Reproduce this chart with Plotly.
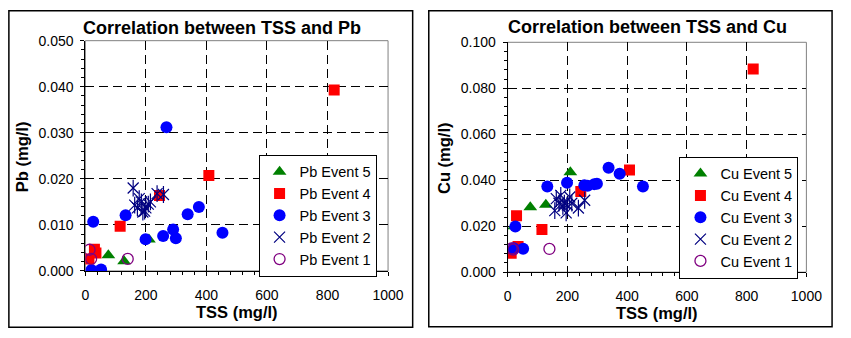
import plotly.graph_objects as go

# ---------------- data ----------------
tss_e5 = [22, 76, 128, 210]
pb_e5 = [0.0000, 0.0034, 0.0021, 0.0068]
cu_e5 = [0.0200, 0.0282, 0.0293, 0.0435]

tss_e4 = [12, 30, 35, 115, 245, 408, 822]
pb_e4 = [0.0026, 0.0047, 0.0039, 0.0097, 0.0164, 0.0207, 0.0393]
cu_e4 = [0.0082, 0.0245, 0.0112, 0.0186, 0.0351, 0.0445, 0.0884]

tss_e3 = [20, 26, 52, 133, 199, 257, 268, 290, 299, 338, 375, 453]
pb_e3 = [0.0002, 0.0107, 0.0003, 0.0121, 0.0069, 0.0076, 0.0312, 0.0090, 0.0071, 0.0123, 0.0139, 0.0083]
cu_e3 = [0.0104, 0.0199, 0.0102, 0.0373, 0.0389, 0.0378, 0.0376, 0.0383, 0.0385, 0.0454, 0.0428, 0.0373]

tss_e2 = [158, 163, 172, 178, 185, 190, 196, 200, 208, 215, 237, 258]
pb_e2 = [0.0180, 0.0143, 0.0137, 0.0157, 0.0150, 0.0128, 0.0130, 0.0137, 0.0145, 0.0150, 0.0168, 0.0166]
cu_e2 = [0.0268, 0.0320, 0.0300, 0.0334, 0.0286, 0.0300, 0.0258, 0.0293, 0.0327, 0.0300, 0.0279, 0.0313]

tss_e1 = [14, 19, 140]
pb_e1 = [0.0046, 0.0026, 0.0026]
cu_e1 = [0.0103, 0.0098, 0.0101]

x_ticks = [0, 200, 400, 600, 800, 1000]

W, H = 851, 338
FONT = "Arial, Liberation Sans, sans-serif"
NAVY = "#000080"
PURPLE = "#800080"

fig = go.Figure()


def add_panel(metal, xa, ya, leg, ys):
    e5, e4, e3, e2, e1 = ys
    fig.add_trace(go.Scatter(x=tss_e5, y=e5, mode="markers", name=f"{metal} Event 5",
                             marker=dict(symbol="triangle-up", size=12, color="#008000"),
                             xaxis=xa, yaxis=ya, legend=leg))
    fig.add_trace(go.Scatter(x=tss_e4, y=e4, mode="markers", name=f"{metal} Event 4",
                             marker=dict(symbol="square", size=11, color="#FF0000"),
                             xaxis=xa, yaxis=ya, legend=leg))
    fig.add_trace(go.Scatter(x=tss_e3, y=e3, mode="markers", name=f"{metal} Event 3",
                             marker=dict(symbol="circle", size=12, color="#0000FF"),
                             xaxis=xa, yaxis=ya, legend=leg))
    fig.add_trace(go.Scatter(x=tss_e2, y=e2, mode="markers", name=f"{metal} Event 2",
                             marker=dict(symbol="x-thin-open", size=11, color=NAVY,
                                         line=dict(color=NAVY, width=1.2)),
                             xaxis=xa, yaxis=ya, legend=leg))
    fig.add_trace(go.Scatter(x=tss_e2, y=e2, mode="markers", showlegend=False,
                             marker=dict(symbol="line-ns-open", size=12, color=NAVY,
                                         line=dict(color=NAVY, width=1.2)),
                             xaxis=xa, yaxis=ya, legend=leg, hoverinfo="skip"))
    fig.add_trace(go.Scatter(x=tss_e1, y=e1, mode="markers", name=f"{metal} Event 1",
                             marker=dict(symbol="circle-open", size=11, color=PURPLE,
                                         line=dict(color=PURPLE, width=1.3)),
                             xaxis=xa, yaxis=ya, legend=leg))


add_panel("Pb", "x", "y", "legend", (pb_e5, pb_e4, pb_e3, pb_e2, pb_e1))
add_panel("Cu", "x2", "y2", "legend2", (cu_e5, cu_e4, cu_e3, cu_e2, cu_e1))


def xaxis(domain, anchor):
    return dict(domain=domain, anchor=anchor, range=[0, 1000], tickvals=x_ticks,
                showgrid=True, gridcolor="#000000", gridwidth=1, griddash="9px,5px",
                zeroline=False, showline=True, linecolor="#000000", linewidth=1,
                ticks="outside", ticklen=4, tickcolor="#000000",
                minor=dict(ticks="outside", dtick=40, tick0=0, ticklen=3,
                           tickcolor="#000000", showgrid=False),
                tickfont=dict(family=FONT, size=14, color="#000000"),
                ticklabelstandoff=7, fixedrange=True)


def yaxis(domain, anchor, ymax):
    return dict(domain=domain, anchor=anchor, range=[0, ymax], dtick=ymax / 5, tick0=0,
                tickformat=".3f",
                showgrid=True, gridcolor="#000000", gridwidth=1, griddash="9px,5px",
                zeroline=False, showline=True, linecolor="#000000", linewidth=1,
                ticks="outside", ticklen=4, tickcolor="#000000",
                minor=dict(ticks="outside", dtick=ymax / 25, tick0=0, ticklen=3,
                           tickcolor="#000000", showgrid=False),
                tickfont=dict(family=FONT, size=14, color="#000000"),
                ticklabelstandoff=4, fixedrange=True)


L = (83.3, 393.3, 34.3, 276.0)
R = (515.7, 821.7, 36.0, 277.3)

fig.update_layout(
    width=W, height=H, margin=dict(l=0, r=0, t=0, b=0),
    paper_bgcolor="white", plot_bgcolor="white",
    xaxis=xaxis([L[0] / W, L[1] / W], "y"),
    yaxis=yaxis([1 - L[3] / H, 1 - L[2] / H], "x", 0.05),
    xaxis2=xaxis([R[0] / W, R[1] / W], "y2"),
    yaxis2=yaxis([1 - R[3] / H, 1 - R[2] / H], "x2", 0.1),
    legend=dict(x=260.7 / W, y=1 - 154 / H, xanchor="left", yanchor="top",
                bgcolor="white", bordercolor="#000000", borderwidth=1,
                font=dict(family=FONT, size=14.5, color="#000000"), traceorder="normal"),
    legend2=dict(x=691.7 / W, y=1 - 156 / H, xanchor="left", yanchor="top",
                 bgcolor="white", bordercolor="#000000", borderwidth=1,
                 font=dict(family=FONT, size=14.5, color="#000000"), traceorder="normal"),
    showlegend=True,
)

shapes = []
# outer frames
shapes.append(dict(type="rect", xref="paper", yref="paper", x0=5 / W, x1=418.5 / W,
                   y0=1 - 335 / H, y1=1 - 3 / H, line=dict(color="#000000", width=1.5)))
shapes.append(dict(type="rect", xref="paper", yref="paper", x0=435 / W, x1=848 / W,
                   y0=1 - 334.5 / H, y1=1 - 3 / H, line=dict(color="#000000", width=1.5)))
# grey plot-area borders
for xr, yr in (("x", "y"), ("x2", "y2")):
    shapes.append(dict(type="rect", xref=f"{xr} domain", yref=f"{yr} domain",
                       x0=0, x1=1, y0=0, y1=1, layer="below",
                       line=dict(color="#808080", width=1)))
fig.update_layout(shapes=shapes)

ann = []


def txt(text, x, y, size, angle=0):
    ann.append(dict(text=text, x=x / W, y=1 - y / H, xref="paper", yref="paper",
                    showarrow=False, textangle=angle, xanchor="center", yanchor="middle",
                    font=dict(family=FONT, size=size, color="#000000")))


txt("<b>Correlation between TSS and Pb</b>", 223, 21, 18)
txt("<b>Correlation between TSS and Cu</b>", 659, 20, 18)
txt("<b>TSS (mg/l)</b>", 238.3, 319, 16.5)
txt("<b>TSS (mg/l)</b>", 668.7, 320, 16.5)
txt("<b>Pb (mg/l)</b>", 18, 156, 16.5, -90)
txt("<b>Cu (mg/l)</b>", 450, 157, 16.5, -90)
fig.update_layout(annotations=ann)

fig.write_html("out.html")
